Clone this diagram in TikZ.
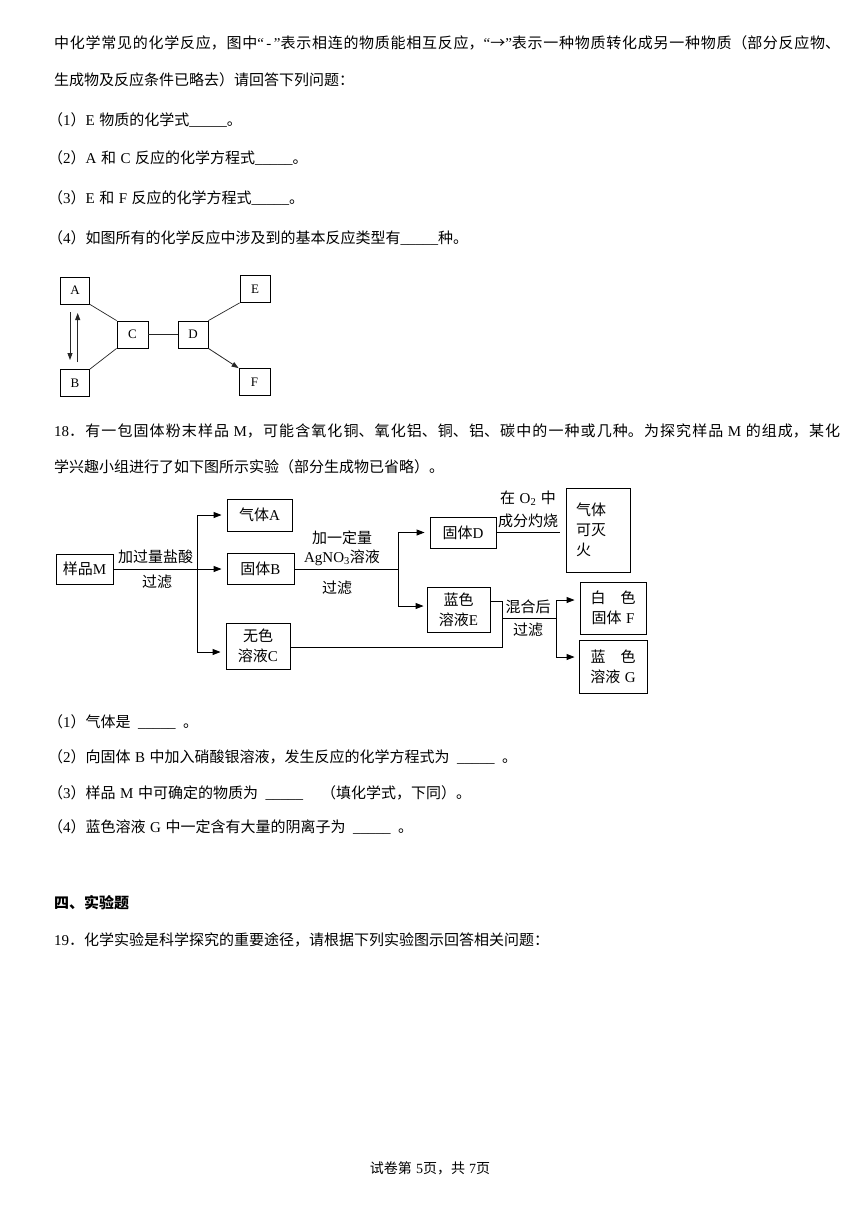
\documentclass[tikz,border=0pt]{standalone}
\usepackage{fontspec}
\setmainfont{Noto Sans CJK SC}
\newfontfamily\lat{Liberation Serif}
\newcommand\en[1]{{\lat #1}}
\newcommand\hs{\hspace*{0.3em}}
\newcommand\hb{\hspace*{0.5em}}
\usetikzlibrary{arrows.meta,calc}
\XeTeXlinebreaklocale "zh"
\XeTeXlinebreakskip=0pt plus 4pt
\begin{document}
\begin{tikzpicture}[x=1pt,y=-1pt,
  txt/.style={anchor=base west,inner sep=0pt,font=\fontsize{15}{18}\selectfont},
  jtxt/.style={anchor=base west,inner sep=0pt,text width=786pt,align=justify,font=\fontsize{15}{18}\selectfont},
  fbox/.style={draw,line width=0.9pt,inner sep=0pt,align=center,font=\fontsize{15}{20}\selectfont},
  sbox/.style={draw,line width=0.8pt,inner sep=0pt,minimum width=29pt,minimum height=27pt,font=\lat\fontsize{13}{15}\selectfont},
  lbl/.style={inner sep=0pt,font=\fontsize{15}{18}\selectfont},
  ln/.style={line width=0.9pt},
  thinln/.style={line width=0.7pt,draw=black!85},
  arr/.style={line width=0.9pt,-{Triangle[length=8pt,width=6pt]}},
  sarr/.style={line width=0.8pt,-{Triangle[length=7pt,width=5pt]}}]
\useasboundingbox[fill=white] (0,0) rectangle (860,1216);

% ---- text of question 17 ----
\node[jtxt] (t1) at (54,48.5) {\parfillskip=0pt 中化学常见的化学反应，图中\en{“\,-\,”}表示相连的物质能相互反应，\en{“}→\en{”}表示一种物质转化成另一种物质（部分反应物、\par};
\node[txt] (t2) at (54,85.5) {生成物及反应条件已略去）请回答下列问题：};
\node[txt] (t3) at (48,125.5) {（\en{1}）\en{E}\hs 物质的化学式\en{\_\_\_\_\_}。};
\node[txt] (t4) at (48,163.5) {（\en{2}）\en{A}\hs 和\hs\en{C}\hs 反应的化学方程式\en{\_\_\_\_\_}。};
\node[txt] (t5) at (48,203.5) {（\en{3}）\en{E}\hs 和\hs\en{F}\hs 反应的化学方程式\en{\_\_\_\_\_}。};
\node[txt] (t6) at (48,243.5) {（\en{4}）如图所有的化学反应中涉及到的基本反应类型有\en{\_\_\_\_\_}种。};

% ---- diagram 1 ----
\node[sbox] (A) at (75,290.5) {A};
\node[sbox] (B) at (75,383) {B};
\node[sbox,minimum width=31pt] (C) at (132.5,334.5) {C};
\node[sbox,minimum width=30pt] (D) at (193,334.5) {D};
\node[sbox,minimum width=30pt] (E) at (255,289) {E};
\node[sbox,minimum width=31pt] (F) at (254.5,382) {F};
\draw[thinln] (A.south east) -- (C.north west);
\draw[thinln] (B.north east) -- (C.south west);
\draw[thinln] (C.east) -- (D.west);
\draw[thinln] (D.north east) -- (E.south west);
\draw[sarr,draw=black!85] (D.south east) -- (F.north west);
\coordinate (ab1) at (70,312);
\coordinate (ab2) at (70,360);
\coordinate (ba1) at (77.7,362);
\coordinate (ba2) at (77.7,313);
\draw[sarr,draw=black!85] (ab1) -- (ab2);
\draw[sarr,draw=black!85] (ba1) -- (ba2);

% ---- text of question 18 ----
\node[jtxt] (t7) at (54,436) {\parfillskip=0pt \en{18}．有一包固体粉末样品\hs\en{M}，可能含氧化铜、氧化铝、铜、铝、碳中的一种或几种。为探究样品\hs\en{M}\hs 的组成，某化\par};
\node[txt] (t8) at (54,472.5) {学兴趣小组进行了如下图所示实验（部分生成物已省略）。};

% ---- flowchart ----
\node[fbox,minimum width=57pt,minimum height=30pt] (M) at (84.5,569) {样品\en{M}};
\node[fbox,minimum width=65pt,minimum height=32pt] (GA) at (259.5,515) {气体\en{A}};
\node[fbox,minimum width=67pt,minimum height=31pt] (SB) at (260.5,569) {固体\en{B}};
\node[fbox,minimum width=64pt,minimum height=46pt] (SC) at (258,646) {无色\\溶液\en{C}};
\node[fbox,minimum width=66pt,minimum height=31pt] (SD) at (463,532.5) {固体\en{D}};
\node[fbox,minimum width=64pt,minimum height=84pt,text width=44pt,align=left] (GX) at (598,530) {气体\\可灭\\火};
\node[fbox,minimum width=63pt,minimum height=45pt] (SE) at (458.5,609.5) {蓝色\\溶液\en{E}};
\node[fbox,minimum width=66pt,minimum height=52pt] (SF) at (613,608) {白　色\\固体\hs\en{F}};
\node[fbox,minimum width=68pt,minimum height=53pt] (SG) at (613,666.5) {蓝　色\\溶液\hs\en{G}};

\coordinate (bt) at (197,515);
\coordinate (bb) at (197,652);
\draw[arr,shorten >=5pt] (M.east) -- (SB.west);
\draw[ln] (bt) -- (bb);
\draw[arr,shorten >=5pt] (bt) -- (GA.west);
\draw[arr,shorten >=5pt] (bb) -- (SC.west |- bb);

\coordinate (k) at (398,569);
\coordinate (kt) at (398,532.5);
\coordinate (kb) at (398,606);
\draw[ln] (SB.east) -- (k);
\draw[ln] (kt) -- (kb);
\draw[arr,shorten >=5pt] (kt) -- (SD.west);
\draw[arr,shorten >=3pt] (kb) -- (SE.west |- kb);
\draw[ln,shorten >=6pt] (SD.east) -- (GX.west |- SD.east);

\coordinate (m1) at (502,601);
\coordinate (m2) at (502,647);
\coordinate (m3) at (502,618);
\coordinate (n) at (556,618);
\coordinate (nt) at (556,600);
\coordinate (nb) at (556,657);
\draw[ln] (SE.east |- m1) -- (m1) -- (m2) -- (SC.east |- m2);
\draw[ln] (m3) -- (n);
\draw[ln] (nt) -- (nb);
\draw[arr,shorten >=5pt] (nt) -- (SF.west |- nt);
\draw[arr,shorten >=4pt] (nb) -- (SG.west |- nb);

\node[lbl] (l1) at (155.5,557) {加过量盐酸};
\node[lbl] (l2) at (157,582) {过滤};
\node[lbl] (l3) at (342,538) {加一定量};
\node[lbl] (l4) at (342,558) {\en{AgNO\textsubscript{3}}溶液};
\node[lbl] (l5) at (337,588) {过滤};
\node[lbl] (l6) at (528,498) {在\hs\en{O\textsubscript{2}}\hs 中};
\node[lbl] (l7) at (528,521) {成分灼烧};
\node[lbl] (l8) at (528,607) {混合后};
\node[lbl] (l9) at (528,630) {过滤};

% ---- sub-questions of 18 ----
\node[txt] (t9) at (48,727.5) {（\en{1}）气体是\hb\en{\_\_\_\_\_}\hb 。};
\node[txt] (t10) at (48,762.5) {（\en{2}）向固体\hs\en{B}\hs 中加入硝酸银溶液，发生反应的化学方程式为\hb\en{\_\_\_\_\_}\hb 。};
\node[txt] (t11) at (48,798.5) {（\en{3}）样品\hs\en{M}\hs 中可确定的物质为\hb\en{\_\_\_\_\_}\hspace*{1.2em}（填化学式，下同）。};
\node[txt] (t12) at (48,832.5) {（\en{4}）蓝色溶液\hs\en{G}\hs 中一定含有大量的阴离子为\hb\en{\_\_\_\_\_}\hb 。};

% ---- section 4 ----
\node[txt,font=\bfseries\fontsize{15}{18}\selectfont] (t13) at (54,908.5) {四、实验题};
\node[txt] (t14) at (54,945.5) {\en{19}．化学实验是科学探究的重要途径，请根据下列实验图示回答相关问题：};

% ---- footer ----
\node[inner sep=0pt,anchor=base,font=\fontsize{14}{16}\selectfont] (ft) at (430,1173.5) {试卷第\hs\en{5}页，共\hs\en{7}页};
\end{tikzpicture}
\end{document}
